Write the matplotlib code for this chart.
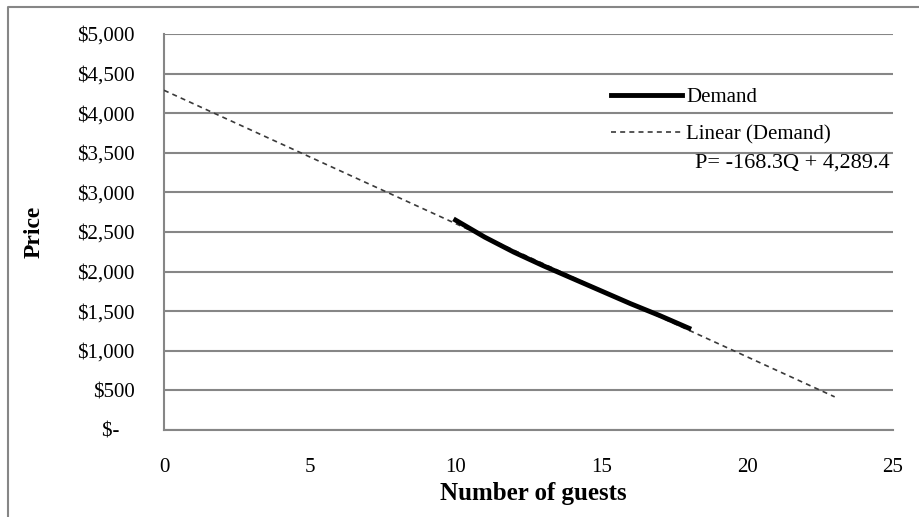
import numpy as np
import matplotlib.pyplot as plt
from matplotlib.lines import Line2D

# Data
guests = [10, 11, 12, 13, 14, 15, 16, 17, 18]
price = [2650, 2435, 2245, 2075, 1915, 1755, 1595, 1445, 1285]

# Linear trendline (as printed on the chart)
slope = -168.3
intercept = 4289.4
trend_q = [0, 23]

y_ticks = [0, 500, 1000, 1500, 2000, 2500, 3000, 3500, 4000, 4500, 5000]
y_labels = ['$-   ', '$500', '$1,000', '$1,500', '$2,000', '$2,500',
            '$3,000', '$3,500', '$4,000', '$4,500', '$5,000']
x_ticks = [0, 5, 10, 15, 20, 25]

plt.rcParams['font.family'] = ['Liberation Serif', 'DejaVu Serif']
grey = '#868686'

fig = plt.figure(figsize=(9.2, 5.17), dpi=100)
ax = fig.add_axes([164/920, 1-430/517, (893-164)/920, (430-34)/517])

# trendline
tq = np.array(trend_q)
ax.plot(tq, slope*tq + intercept, color='#3a3a3a', lw=1.2, ls=(0, (3, 2.5)),
        label='Linear (Demand)', zorder=3)
# demand curve
ax.plot(guests, price, color='black', lw=3.5, label='Demand', zorder=4)

ax.set_xlim(0, 25)
ax.set_ylim(0, 5000)
ax.set_xticks(x_ticks)
ax.set_yticks(y_ticks)
ax.set_yticklabels(y_labels)
ax.tick_params(length=0, labelsize=15)
ax.tick_params(axis='x', pad=20)
ax.tick_params(axis='y', pad=21)
ax.grid(axis='y', color=grey, lw=1.5)
ax.set_axisbelow(True)
for s in ['top', 'right']:
    ax.spines[s].set_visible(False)
for s in ['left', 'bottom']:
    ax.spines[s].set_color(grey)
    ax.spines[s].set_linewidth(1.5)

ax.set_xlabel('Number of guests', fontsize=18, fontweight='bold')
ax.set_ylabel('Price', fontsize=17, fontweight='bold')
ax.xaxis.set_label_coords(0.507, (430-482)/396)
ax.yaxis.set_label_coords((45-164)/729, 0.5)

handles, labels = ax.get_legend_handles_labels()
ax.legend(handles[::-1], labels[::-1], loc='upper left',
          bbox_to_anchor=((603-164)/729, (430-79)/396), frameon=False,
          fontsize=15, handlelength=3.4, handletextpad=0.2, labelspacing=0.85,
          borderaxespad=0)

ax.text(0.996, (430-163)/396, 'P= -168.3Q + 4,289.4', transform=ax.transAxes,
        ha='right', va='center', fontsize=16)

# chart area border
fig.add_artist(Line2D([8/920, 8/920, 1], [0, 1-7/517, 1-7/517],
                      transform=fig.transFigure, color=grey, lw=1.5))

fig.savefig('out.png', dpi=100)
